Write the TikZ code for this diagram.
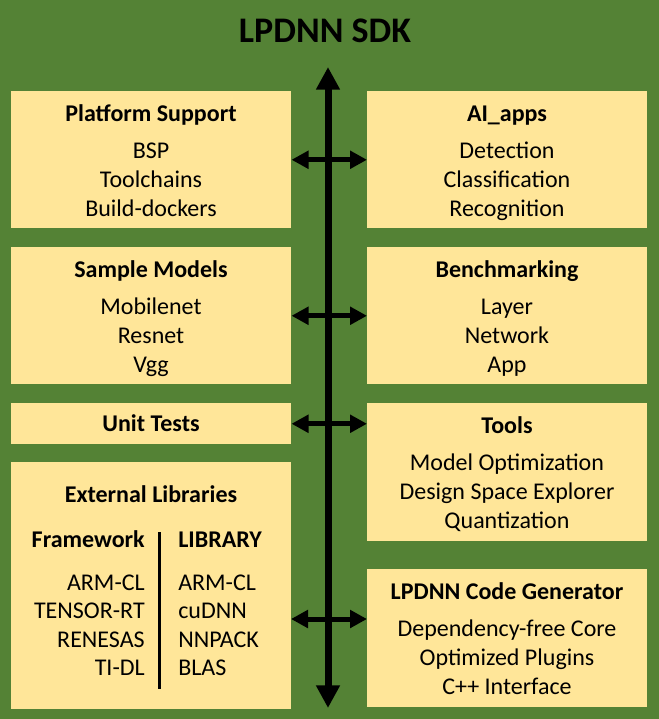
\documentclass[tikz,border=0pt]{standalone}
\usepackage{fontspec}
\setmainfont{Carlito}
\usetikzlibrary{arrows.meta}
\definecolor{sdkgreen}{RGB}{84,130,53}
\definecolor{boxyellow}{RGB}{255,230,153}
\tikzset{
  block/.style={
    fill=boxyellow,
    draw=none,
    anchor=north west,
    inner sep=0pt,
    minimum width=210pt
  },
  head/.style={anchor=base, inner sep=0pt, font=\bfseries\fontsize{18}{22}\selectfont},
  item/.style={anchor=base, inner sep=0pt, font=\fontsize{18}{22}\selectfont},
  spine/.style={line width=5.25pt, {Triangle[length=17pt,width=17pt]}-{Triangle[length=17pt,width=17pt]}},
  link/.style={line width=3.75pt, {Triangle[length=12.75pt,width=13pt]}-{Triangle[length=12.75pt,width=13pt]}}
}

\begin{document}
\begin{tikzpicture}[x=0.75pt,y=-0.75pt]
        \fill[sdkgreen] (0,0) rectangle (659,719);
        \node[anchor=base, inner sep=0pt, font=\bfseries\fontsize{27}{32}\selectfont] (title) at (325,42) {LPDNN SDK};

        % left column
        \node[block, minimum height=102.75pt] (plat) at (11,91) {};
        \node[block, minimum height=102.75pt] (models) at (11,247) {};
        \node[block, minimum height=30.75pt] (unit) at (11,403) {};
        \node[block, minimum height=185.25pt] (extlib) at (11,462) {};

        % right column
        \node[block, minimum height=102.75pt] (aiapps) at (367,91) {};
        \node[block, minimum height=102.75pt] (bench) at (367,247) {};
        \node[block, minimum height=103.5pt] (tools) at (367,403) {};
        \node[block, minimum height=103.5pt] (codegen) at (367,569) {};

        \node[head] (plat-h) at (151,121) {Platform Support};
        \foreach \t [count=\i] in {BSP, Toolchains, Build-dockers}
            \node[item] (plat-\i) at (151,129+29*\i) {\t};

        \node[head] (models-h) at (151,277) {Sample Models};
        \foreach \t [count=\i] in {Mobilenet, Resnet, Vgg}
            \node[item] (models-\i) at (151,285+29*\i) {\t};

        \node[head] (unit-h) at (151,431) {Unit Tests};

        \node[head] (extlib-h) at (151,502) {External Libraries};
        \node[head, anchor=base east] (fw-h) at (145,547) {Framework};
        \node[head, anchor=base west] (lib-h) at (178,547) {LIBRARY};
        \foreach \t [count=\i] in {ARM-CL, TENSOR-RT, RENESAS, TI-DL}
            \node[item, anchor=base east] (fw-\i) at (145,561.5+28.5*\i) {\t};
        \foreach \t [count=\i] in {ARM-CL, cuDNN, NNPACK, BLAS}
            \node[item, anchor=base west] (lib-\i) at (178,561.5+28.5*\i) {\t};
        \draw[line width=2.25pt] (159,532) -- (159,689);

        \node[head] (aiapps-h) at (507,121) {AI\_apps};
        \foreach \t [count=\i] in {Detection, Classification, Recognition}
            \node[item] (aiapps-\i) at (507,129+29*\i) {\t};

        \node[head] (bench-h) at (507,277) {Benchmarking};
        \foreach \t [count=\i] in {Layer, Network, App}
            \node[item] (bench-\i) at (507,285+29*\i) {\t};

        \node[head] (tools-h) at (507,433) {Tools};
        \foreach \t [count=\i] in {Model Optimization, Design Space Explorer, Quantization}
            \node[item] (tools-\i) at (507,441+29*\i) {\t};

        \node[head] (codegen-h) at (507,599) {LPDNN Code Generator};
        \foreach \t [count=\i] in {Dependency-free Core, Optimized Plugins, C++ Interface}
            \node[item] (codegen-\i) at (507,607+29*\i) {\t};

        % the SDK spine and its links
        \coordinate (top) at (328,67);
        \coordinate (bottom) at (328,708);
        \draw[spine] (top) -- (bottom);

        \coordinate (extlink) at (291,619);
        \draw[link] (plat.east) -- (aiapps.west);
        \draw[link] (models.east) -- (bench.west);
        \draw[link] (unit.east) -- (unit.east -| tools.west);
        \draw[link] (extlink) -- (extlink -| codegen.west);
\end{tikzpicture}
\end{document}
